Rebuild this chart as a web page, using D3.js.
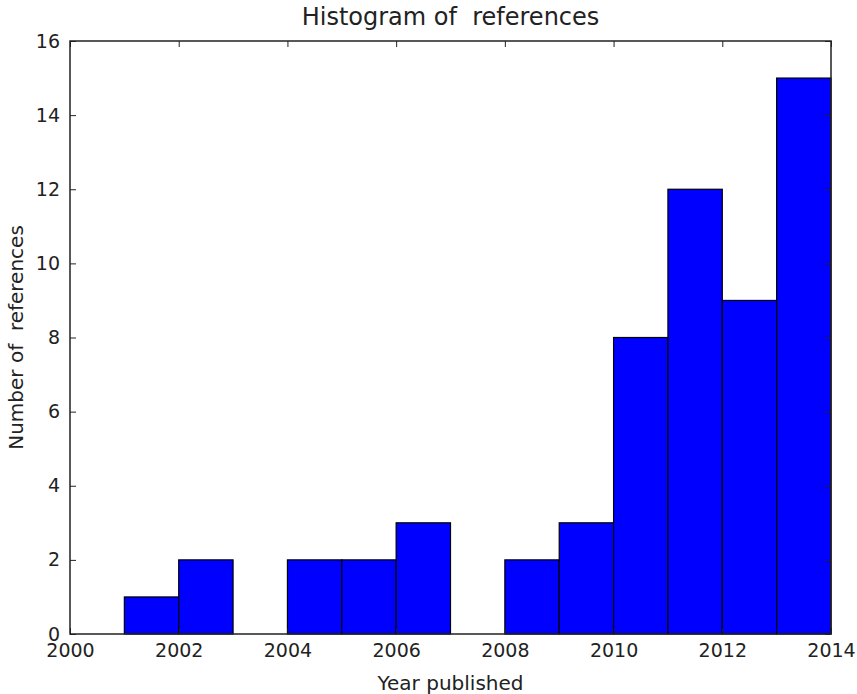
<!DOCTYPE html>
<html>
<head>
<meta charset="utf-8">
<script src="https://cdn.jsdelivr.net/npm/d3@7"></script>
<style>
  body { margin: 0; background: #fff; }
  text { font-family: "DejaVu Sans", sans-serif; fill: #222; white-space: pre; }
</style>
</head>
<body>
<svg id="chart" width="857" height="694"></svg>
<script>
// histogram bins (one per year) and counts
var binStarts = [2001, 2002, 2003, 2004, 2005, 2006, 2007, 2008, 2009, 2010, 2011, 2012, 2013];
var counts    = [1, 2, 0, 2, 2, 3, 0, 2, 3, 8, 12, 9, 15];
var xTicks = [2000, 2002, 2004, 2006, 2008, 2010, 2012, 2014];
var yTicks = [0, 2, 4, 6, 8, 10, 12, 14, 16];

var data = binStarts.map(function(d, i) { return {x0: d, x1: d + 1, value: counts[i]}; });

var svg = d3.select("#chart");
var plotLeft = 70, plotRight = 831, plotTop = 41, plotBottom = 634;
var tickLen = 6;

var x = d3.scaleLinear().domain([2000, 2014]).range([plotLeft, plotRight]);
var y = d3.scaleLinear().domain([0, 16]).range([plotBottom, plotTop]);

// bars
svg.selectAll(".bar")
  .data(data.filter(function(d) { return d.value > 0; }))
  .enter()
  .append("rect")
    .attr("class", "bar")
    .attr("x", function(d) { return x(d.x0); })
    .attr("y", function(d) { return y(d.value); })
    .attr("width", function(d) { return x(d.x1) - x(d.x0); })
    .attr("height", function(d) { return y(0) - y(d.value); })
    .attr("fill", "#0000ff")
    .attr("stroke", "#000")
    .attr("stroke-width", 1.2);

// axes with inward ticks (matplotlib classic look)
function styleAxis(g) {
  g.select(".domain").remove();
  g.selectAll(".tick line").attr("stroke", "#222").attr("stroke-width", 1);
  g.selectAll(".tick text").style("font-size", "19px").style("font-family", "DejaVu Sans");
}

svg.append("g")
  .attr("transform", "translate(0," + plotBottom + ")")
  .call(d3.axisBottom(x).tickValues(xTicks).tickFormat(d3.format("d")).tickSizeInner(-tickLen).tickSizeOuter(0).tickPadding(10))
  .call(styleAxis);

svg.append("g")
  .attr("transform", "translate(0," + plotTop + ")")
  .call(d3.axisTop(x).tickValues(xTicks).tickFormat("").tickSizeInner(-tickLen).tickSizeOuter(0))
  .call(styleAxis);

svg.append("g")
  .attr("transform", "translate(" + plotLeft + ",0)")
  .call(d3.axisLeft(y).tickValues(yTicks).tickSizeInner(-tickLen).tickSizeOuter(0).tickPadding(10))
  .call(styleAxis);

svg.append("g")
  .attr("transform", "translate(" + plotRight + ",0)")
  .call(d3.axisRight(y).tickValues(yTicks).tickFormat("").tickSizeInner(-tickLen).tickSizeOuter(0))
  .call(styleAxis);

// frame
svg.append("rect")
  .attr("x", plotLeft).attr("y", plotTop)
  .attr("width", plotRight - plotLeft).attr("height", plotBottom - plotTop)
  .attr("fill", "none").attr("stroke", "#222").attr("stroke-width", 1.5);

// labels
svg.append("text")
  .attr("x", (plotLeft + plotRight) / 2).attr("y", 25)
  .attr("text-anchor", "middle")
  .style("font-size", "24px")
  .text("Histogram of  references");

svg.append("text")
  .attr("x", (plotLeft + plotRight) / 2).attr("y", 690)
  .attr("text-anchor", "middle")
  .style("font-size", "20px")
  .text("Year published");

svg.append("text")
  .attr("transform", "translate(23," + ((plotTop + plotBottom) / 2) + ") rotate(-90)")
  .attr("text-anchor", "middle")
  .style("font-size", "20px")
  .text("Number of  references");
</script>
</body>
</html>
